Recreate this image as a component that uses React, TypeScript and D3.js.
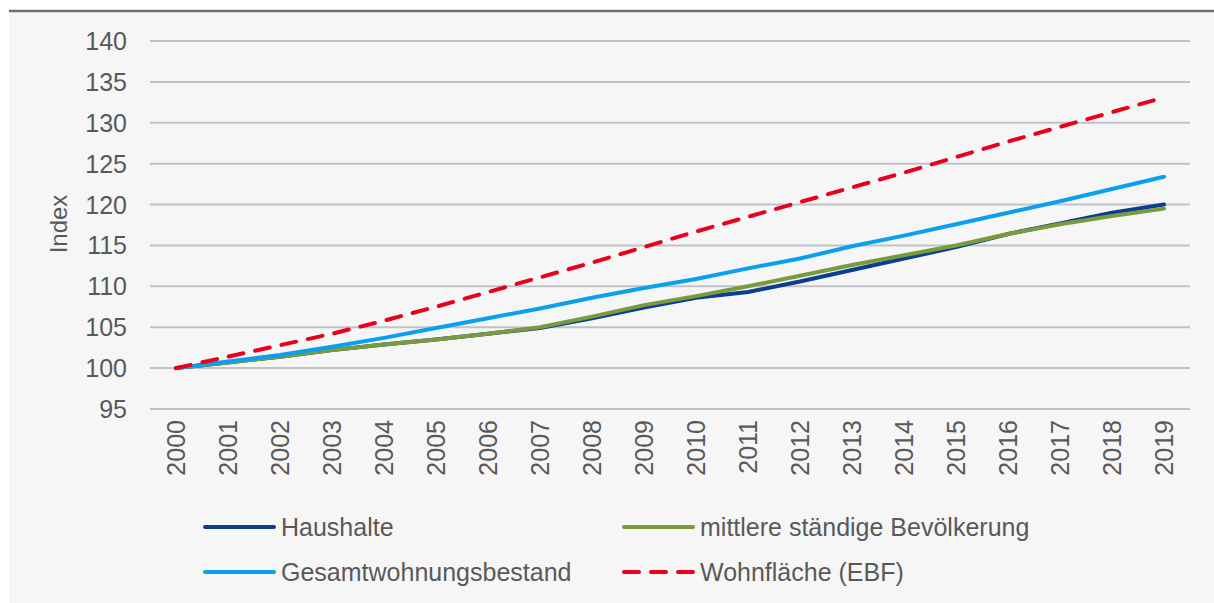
import * as d3 from 'd3'

const years = d3.range(2000, 2020).map(String)
const yTicks = [95, 100, 105, 110, 115, 120, 125, 130, 135, 140]

// Index values (2000 = 100)
const haushalte = [100, 100.7, 101.4, 102.2, 102.9, 103.5, 104.2, 104.9, 106.1, 107.4, 108.6, 109.3, 110.6, 112.0, 113.4, 114.8, 116.4, 117.7, 119.0, 120.0]
const bevoelkerung = [100, 100.7, 101.4, 102.2, 102.9, 103.5, 104.2, 105.0, 106.3, 107.7, 108.8, 110.0, 111.3, 112.6, 113.8, 115.0, 116.4, 117.6, 118.6, 119.5]
const wohnungsbestand = [100, 100.8, 101.6, 102.6, 103.7, 104.9, 106.1, 107.3, 108.6, 109.8, 110.9, 112.2, 113.4, 114.9, 116.2, 117.6, 119.0, 120.4, 121.9, 123.4]
const wohnflaeche = [100, 101.4, 102.8, 104.2, 105.8, 107.5, 109.3, 111.1, 112.9, 114.8, 116.7, 118.5, 120.3, 122.1, 123.9, 125.8, 127.7, 129.5, 131.3, 133.1]

const series = [
  { name: 'Haushalte', values: haushalte, color: '#0b3d91', dash: null },
  { name: 'mittlere ständige Bevölkerung', values: bevoelkerung, color: '#7a9a3e', dash: null },
  { name: 'Gesamtwohnungsbestand', values: wohnungsbestand, color: '#0b9ff0', dash: null },
  { name: 'Wohnfläche (EBF)', values: wohnflaeche, color: '#e8001c', dash: '15 12' },
]

const W = 1214
const H = 603
const FONT = "'Liberation Sans', Arial, sans-serif"
const TEXT = '#595959'

export default function App() {
  const x = d3.scaleBand<string>().domain(years).range([150, 1190]).padding(0)
  const y = d3.scaleLinear().domain([95, 140]).range([409, 41])
  const cx = (d: string) => (x(d) as number) + x.bandwidth() / 2

  const line = d3.line<number>()
    .x((_, i) => cx(years[i]))
    .y(d => y(d))

  // legend: 2 columns, 2 rows
  const legendPos = [
    { x: 205, y: 527 },
    { x: 624, y: 527 },
    { x: 205, y: 572 },
    { x: 624, y: 572 },
  ]

  return (
    <svg width={W} height={H} style={{ position: 'absolute', left: 0, top: 0 }} fontFamily={FONT}>
      <rect x={0} y={0} width={W} height={H} fill="#ffffff" />
      <rect x={9} y={11} width={W - 9} height={H - 11} fill="#f6f6f6" />
      <line x1={9} x2={W} y1={11} y2={11} stroke="#6b7079" strokeWidth={2.5} />

      {/* gridlines */}
      {yTicks.map(t => (
        <line key={t} x1={150} x2={1190} y1={y(t)} y2={y(t)} stroke="#bfc3c7" strokeWidth={2} />
      ))}

      {/* y tick labels */}
      {yTicks.map(t => (
        <text key={t} x={127} y={y(t)} dy="0.36em" textAnchor="end" fontSize={25} fill={TEXT}>{t}</text>
      ))}
      <text transform="translate(67,224) rotate(-90)" textAnchor="middle" fontSize={24} fill={TEXT}>Index</text>

      {/* x tick labels */}
      {years.map(yr => (
        <text key={yr} transform={`translate(${cx(yr)},420) rotate(-90)`} dy="0.36em" textAnchor="end" fontSize={25} fill={TEXT}>{yr}</text>
      ))}

      {/* lines */}
      {series.map(s => (
        <path key={s.name} d={line(s.values) || ''} fill="none" stroke={s.color} strokeWidth={4}
          strokeLinecap="round" strokeLinejoin="round" strokeDasharray={s.dash || undefined} />
      ))}

      {/* legend */}
      {series.map((s, i) => (
        <g key={s.name} transform={`translate(${legendPos[i].x},${legendPos[i].y})`}>
          <line x1={0} x2={69} y1={0} y2={0} stroke={s.color} strokeWidth={4}
            strokeLinecap="round" strokeDasharray={s.dash || undefined} />
          <text x={76} y={0} dy="0.36em" fontSize={25} fill={TEXT}>{s.name}</text>
        </g>
      ))}
    </svg>
  )
}
